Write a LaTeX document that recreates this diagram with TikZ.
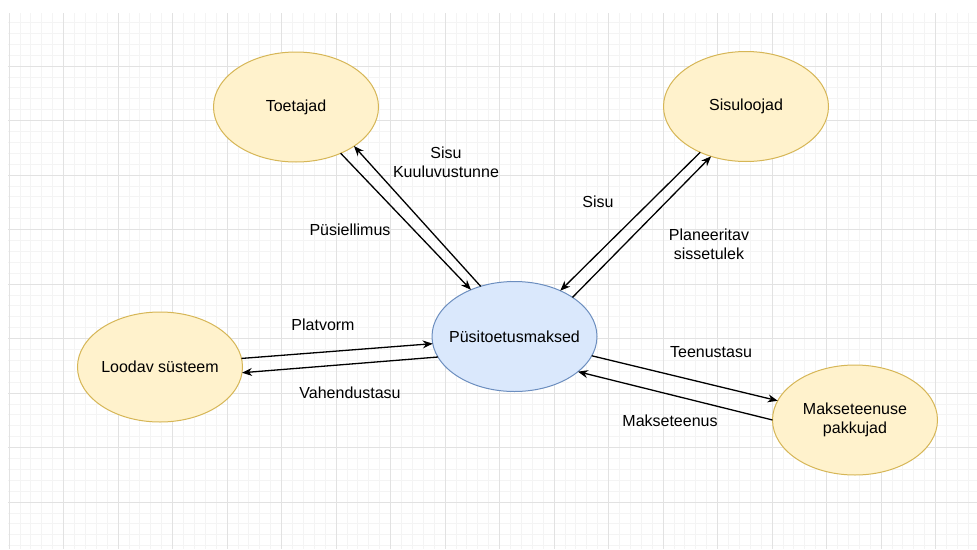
\documentclass[tikz,border=0pt]{standalone}
\usepackage{fontspec}
\setmainfont{Liberation Sans}
\usetikzlibrary{shapes.geometric,arrows.meta}
\definecolor{gridminor}{HTML}{F4F4F4}
\definecolor{gridmajor}{HTML}{E2E2E2}
\definecolor{roleFill}{HTML}{FFF2CC}
\definecolor{roleLine}{HTML}{D6B656}
\definecolor{hubFill}{HTML}{DAE8FC}
\definecolor{hubLine}{HTML}{6C8EBF}
\begin{document}
\begin{tikzpicture}[x=1pt,y=-1pt,
  party/.style={ellipse, draw=roleLine, fill=roleFill, line width=1pt,
    minimum width=165pt, minimum height=110pt, inner sep=0pt, outer sep=0pt,
    align=center, font=\fontsize{16}{19}\selectfont},
  hub/.style={party, draw=hubLine, fill=hubFill},
  flow/.style={-{Stealth[length=10pt,width=8pt]}, line width=1.3pt, black},
  lbl/.style={align=center, font=\fontsize{16}{19}\selectfont, inner sep=0pt}]
\useasboundingbox (0,0) rectangle (977,549);
\fill[white] (0,0) rectangle (977,549);

% background grid
\begin{scope}
  \clip (8,13) rectangle (977,549);
  \foreach \i in {0,...,89}
    \draw[gridminor, line width=0.8pt] ({9+10.9*\i},13) -- ({9+10.9*\i},549);
  \foreach \i in {0,...,49}
    \draw[gridminor, line width=0.8pt] (8,{11.5+10.9*\i}) -- (977,{11.5+10.9*\i});
  \foreach \k in {0,...,17}
    \draw[gridmajor, line width=1pt] ({9+54.5*\k},13) -- ({9+54.5*\k},549);
  \foreach \k in {0,...,9}
    \draw[gridmajor, line width=1pt] (8,{11.5+54.5*\k}) -- (977,{11.5+54.5*\k});
\end{scope}

% parties (labels kept in zero-width boxes so every ellipse keeps its set size)
\node[party] (toe) at (296,107) {Toetajad};
\node[party] (sis) at (746,106.5) {Sisuloojad};
\node[hub]   (pus) at (514.5,336.5) {\makebox[0pt][c]{Püsitoetusmaksed}};
\node[party] (loo) at (160,367) {\makebox[0pt][c]{Loodav süsteem}};
\node[party] (mak) at (855,420) {Makseteenuse\\pakkujad};

% flows
\draw[flow] (toe.-46) -- (pus.133);
\draw[flow] (pus.124) -- (toe.-34);
\draw[flow] (sis.-135) -- (pus.45);
\draw[flow] (pus.34) -- (sis.-125.5);
\draw[flow] (loo.6) -- (pus.185);
\draw[flow] (pus.195) -- (loo.-4);
\draw[flow] (pus.-14) -- (mak.166);
\draw[flow] (mak.180) -- (pus.-29);

% flow labels
\node[lbl] (lsisuk) at (446,162) {Sisu\\Kuuluvustunne};
\node[lbl] (lpusi) at (350,230) {Püsiellimus};
\node[lbl] (lsisu) at (598,202) {Sisu};
\node[lbl] (lplan) at (709,244) {Planeeritav\\sissetulek};
\node[lbl] (lplat) at (323,325) {Platvorm};
\node[lbl] (lvah) at (350,393) {Vahendustasu};
\node[lbl] (lteen) at (711,352) {Teenustasu};
\node[lbl] (lmak) at (670,421) {Makseteenus};
\end{tikzpicture}
\end{document}
